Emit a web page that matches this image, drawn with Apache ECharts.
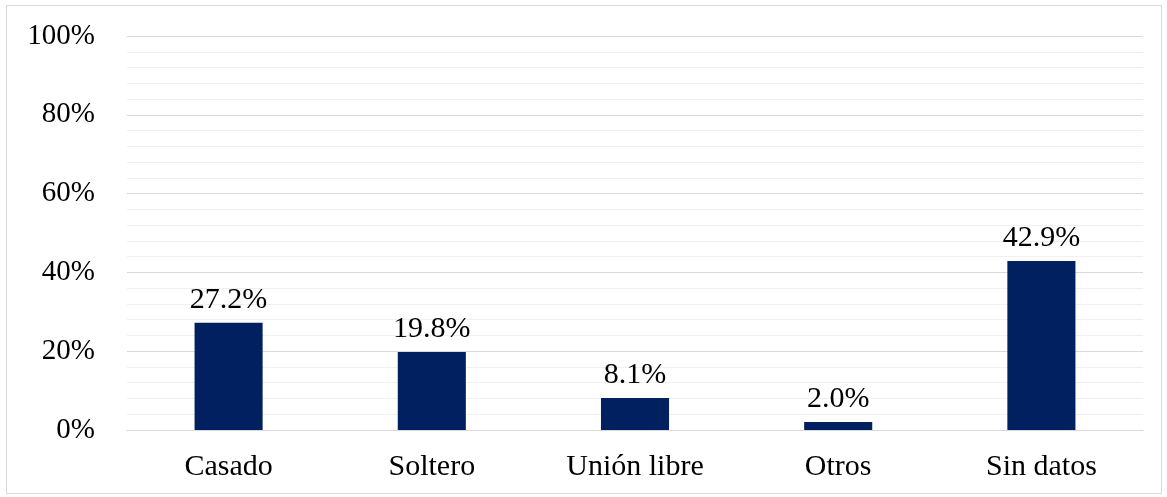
<!DOCTYPE html>
<html>
<head>
<meta charset="utf-8">
<script src="https://cdn.jsdelivr.net/npm/echarts@6/dist/echarts.min.js"></script>
<style>
  html, body { margin: 0; padding: 0; background: #fff; }
  #frame { position: absolute; left: 6px; top: 5px; width: 1156px; height: 489px; border: 1px solid #d9d9d9; box-sizing: border-box; }
  #chart { position: absolute; left: 0; top: 0; width: 1167px; height: 497px; }
</style>
</head>
<body>
<div id="frame"></div>
<div id="chart"></div>
<script>
var categories = ['Casado', 'Soltero', 'Unión libre', 'Otros', 'Sin datos'];
var percentages = [27.2, 19.8, 8.1, 2.0, 42.9];
var yTicks = [0, 20, 40, 60, 80, 100];

var font = '"Liberation Serif", "Times New Roman", serif';
var myChart = echarts.init(document.getElementById('chart'));
var option = {
  animation: false,
  grid: { left: 127, right: 24, top: 36, bottom: 67 },
  xAxis: {
    type: 'category',
    data: categories,
    axisLine: { show: true, lineStyle: { color: '#d9d9d9', width: 1 } },
    axisTick: { show: false },
    axisLabel: { color: '#000', fontFamily: font, fontSize: 30, margin: 22 }
  },
  yAxis: {
    type: 'value',
    min: yTicks[0],
    max: yTicks[yTicks.length - 1],
    interval: 20,
    axisLine: { show: false },
    axisTick: { show: false },
    axisLabel: { color: '#000', fontFamily: font, fontSize: 29, margin: 32, formatter: '{value}%' },
    splitLine: { lineStyle: { color: '#d9d9d9', width: 1 } },
    minorTick: { show: false, splitNumber: 5 },
    minorSplitLine: { show: true, lineStyle: { color: '#f0f0f0', width: 1 } }
  },
  series: [{
    type: 'bar',
    data: percentages,
    barWidth: '33.5%',
    itemStyle: { color: '#002060' },
    label: {
      show: true,
      position: 'top',
      distance: 8,
      color: '#000',
      fontFamily: font,
      fontSize: 30,
      formatter: function (p) { return p.value.toFixed(1) + '%'; }
    }
  }]
};
myChart.setOption(option);
</script>
</body>
</html>
